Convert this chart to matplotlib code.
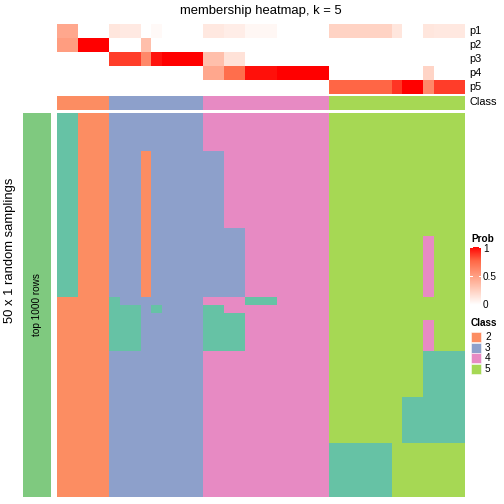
import numpy as np
import matplotlib
matplotlib.use("Agg")
import matplotlib.pyplot as plt
from matplotlib.colors import ListedColormap, LinearSegmentedColormap
from matplotlib.patches import Rectangle

plt.rcParams['font.family'] = ['Liberation Sans', 'DejaVu Sans']

# membership probabilities for 39 samples (columns), k = 5
p1 = [0.45, 0.45, 0, 0, 0, 0.13, 0.11, 0.11, 0, 0.03, 0, 0, 0, 0,
      0.12, 0.12, 0.09, 0.09, 0.04, 0.04, 0.04, 0, 0, 0, 0, 0,
      0.23, 0.23, 0.23, 0.23, 0.23, 0.23, 0.13, 0, 0, 0.13, 0.12, 0.12, 0.12]
p2 = [0.5, 0.5, 1, 1, 1, 0, 0, 0, 0.33, 0, 0, 0, 0, 0,
      0, 0, 0, 0, 0, 0, 0, 0, 0, 0, 0, 0,
      0, 0, 0, 0, 0, 0, 0, 0, 0, 0, 0, 0, 0]
p3 = [0, 0, 0, 0, 0, 0.85, 0.85, 0.85, 0.6, 0.95, 1, 1, 1, 1,
      0.33, 0.33, 0.15, 0.15, 0, 0, 0, 0, 0, 0, 0, 0,
      0, 0, 0, 0, 0, 0, 0, 0, 0, 0, 0, 0, 0]
p4 = [0, 0, 0, 0, 0, 0, 0, 0, 0, 0, 0, 0, 0, 0,
      0.45, 0.45, 0.72, 0.72, 0.96, 0.96, 0.96, 1, 1, 1, 1, 1,
      0, 0, 0, 0, 0, 0, 0, 0, 0, 0.22, 0, 0, 0]
p5 = [0, 0, 0, 0, 0, 0, 0, 0, 0, 0, 0, 0, 0, 0,
      0, 0, 0, 0, 0, 0, 0, 0, 0, 0, 0, 0,
      0.75, 0.75, 0.75, 0.75, 0.75, 0.75, 0.87, 1, 1, 0.6, 0.85, 0.85, 0.85]
sample_class = [2] * 5 + [3] * 9 + [4] * 12 + [5] * 13

n_samplings = 50
# deviations from the consensus class: (first row, last row, first col, last col, class)
deviations = [
    (0, 23, 0, 1, 1),
    (5, 23, 8, 8, 2),
    (5, 23, 14, 15, 3),
    (15, 23, 16, 17, 3),
    (16, 23, 35, 35, 4),
    (24, 24, 5, 5, 1),
    (24, 24, 18, 20, 1),
    (25, 30, 5, 7, 1),
    (25, 25, 9, 9, 1),
    (25, 30, 14, 15, 1),
    (26, 30, 16, 17, 1),
    (27, 30, 35, 35, 4),
    (31, 42, 35, 38, 1),
    (37, 42, 33, 34, 1),
    (43, 49, 26, 31, 1),
]
row_labels = ['p1', 'p2', 'p3', 'p4', 'p5']
legend_classes = [2, 3, 4, 5]
prob_ticks = [0, 0.5, 1]

class_colors = ['#66C2A5', '#FC8D62', '#8DA0CB', '#E78AC3', '#A6D854']
class_cmap = ListedColormap(class_colors)
prob_cmap = LinearSegmentedColormap.from_list(
    'prob', [(0, '#FFFFFF'), (0.25, '#FFCFBF'), (0.5, '#FF9E81'),
             (0.75, '#FF6846'), (1, '#FF0000')])

W = H = 504.0


def box(x, y, w, h):
    return [x / W, 1 - (y + h) / H, w / W, h / H]


fig = plt.figure(figsize=(7, 7), dpi=72)

prob = np.array([p1, p2, p3, p4, p5])
ax = fig.add_axes(box(57, 24, 408, 70))
ax.imshow(prob, cmap=prob_cmap, vmin=0, vmax=1, aspect='auto', interpolation='nearest')
ax.set_axis_off()
for i, lab in enumerate(row_labels):
    fig.text(469 / W, 1 - (31 + 14 * i) / H, lab, fontsize=11, va='center', ha='left')

ax = fig.add_axes(box(57, 96, 408, 14))
ax.imshow(np.array([sample_class]), cmap=class_cmap, vmin=0.5, vmax=5.5,
          aspect='auto', interpolation='nearest')
ax.set_axis_off()
fig.text(469 / W, 1 - 102 / H, 'Class', fontsize=11, va='center', ha='left')

mat = np.tile(np.array(sample_class), (n_samplings, 1))
for r0, r1, c0, c1, k in deviations:
    mat[r0:r1 + 1, c0:c1 + 1] = k
ax = fig.add_axes(box(57, 113, 408, 384))
ax.imshow(mat, cmap=class_cmap, vmin=0.5, vmax=5.5, aspect='auto', interpolation='nearest')
ax.set_axis_off()

ax = fig.add_axes(box(23, 113, 28, 384))
ax.set_facecolor('#7FC97F')
ax.set_xticks([])
ax.set_yticks([])
for s in ax.spines.values():
    s.set_visible(False)
ax.text(0.5, 0.5, 'top 1000 rows', rotation=90, fontsize=10, ha='center', va='center',
        transform=ax.transAxes)

fig.text(10 / W, 1 - 250 / H, '50 x 1 random samplings', rotation=90, fontsize=13,
         ha='center', va='center')
fig.text(261 / W, 1 - 11 / H, 'membership heatmap, k = 5', fontsize=13,
         ha='center', va='center')

# legends
fig.text(471 / W, 1 - 239 / H, 'Prob', fontsize=10, fontweight='bold', ha='left', va='center')
cax = fig.add_axes(box(470, 247, 11, 58))
cax.imshow(np.linspace(1, 0, 100)[:, None], cmap=prob_cmap, vmin=0, vmax=1,
           aspect='auto', extent=[0, 1, 0, 1])
for v in prob_ticks:
    cax.plot([0, 0.18], [v, v], color='white', lw=1)
    cax.plot([0.82, 1], [v, v], color='white', lw=1)
cax.set_xlim(0, 1)
cax.set_ylim(0, 1)
cax.set_axis_off()
for v in prob_ticks:
    fig.text(483 / W, 1 - (305 - 56 * v) / H, f'{v:g}', fontsize=10, ha='left', va='center')

fig.text(471 / W, 1 - 323 / H, 'Class', fontsize=10, fontweight='bold', ha='left', va='center')
for i, k in enumerate(legend_classes):
    y = 332 + 10.7 * i
    fig.patches.append(Rectangle((471 / W, 1 - (y + 10) / H), 10 / W, 10 / H,
                                 transform=fig.transFigure, facecolor=class_colors[k - 1],
                                 edgecolor='white', lw=0.5))
    fig.text(485 / W, 1 - (y + 5) / H, str(k), fontsize=10, ha='left', va='center')

fig.savefig('out.png', dpi=72)
